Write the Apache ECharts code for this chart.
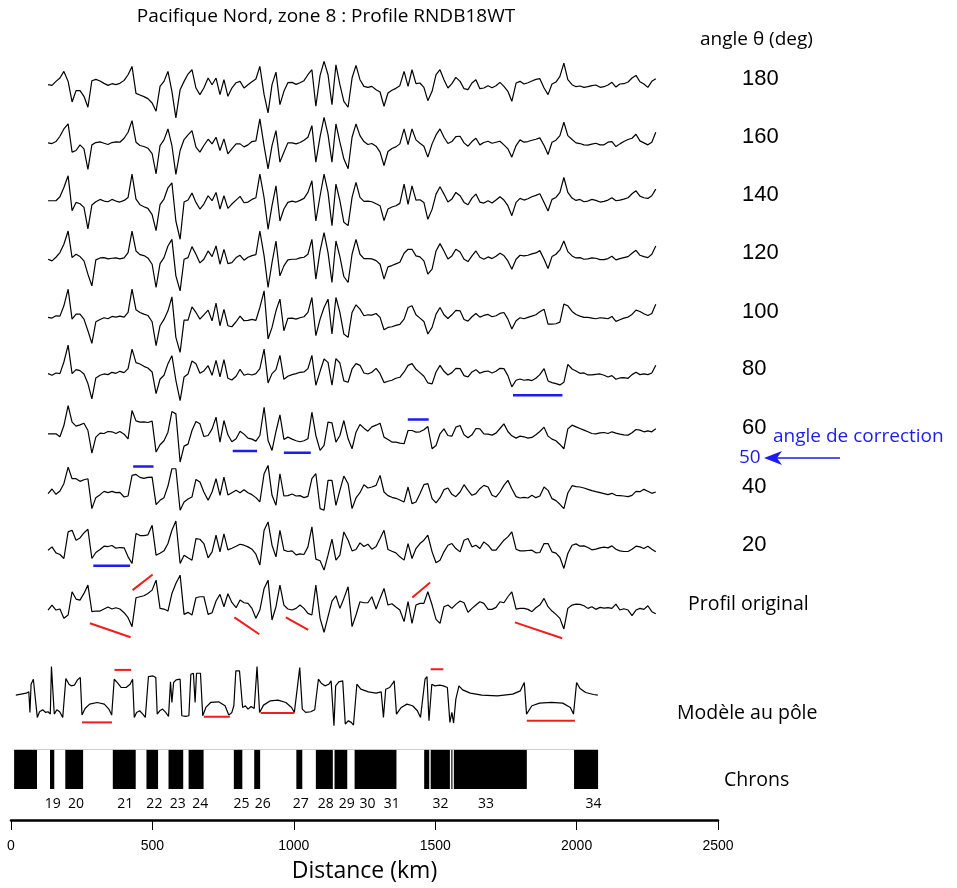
<!DOCTYPE html>
<html><head><meta charset="utf-8">
<script src="https://cdn.jsdelivr.net/npm/echarts@6/dist/echarts.min.js"></script>
<style>html,body{margin:0;padding:0;background:#fff}#c{width:957px;height:888px}</style>
</head><body><div id="c"></div>
<script>
// ---------------- DATA ----------------
// sampling positions along the profiles (km)
const distanceKm = [131,145,159,173,187,202,216,230,244,258,
272,286,300,315,329,343,357,371,385,400,
414,428,442,456,470,484,499,513,527,541,
555,569,583,598,612,626,640,654,668,682,
697,711,725,739,753,767,781,796,810,824,
838,852,866,880,895,909,923,937,951,965,
979,994,1008,1022,1036,1050,1064,1078,1093,1107,
1121,1135,1149,1163,1177,1192,1206,1220,1234,1248,
1262,1276,1291,1305,1319,1333,1347,1361,1375,1390,
1404,1418,1432,1446,1460,1474,1489,1503,1517,1531,
1545,1559,1573,1588,1602,1616,1630,1644,1658,1672,
1687,1701,1715,1729,1743,1757,1771,1786,1800,1814,
1828,1842,1856,1870,1885,1899,1913,1927,1941,1955,
1969,1984,1998,2012,2026,2040,2054,2068,2083,2097,
2111,2125,2139,2153,2167,2182,2196,2210,2224,2238,
2252,2266,2280];

// anomaly values (arbitrary nT units) for each phase angle
const p180 = [0,-2,10,20,40,10,-52,-18,-18,-35,
-68,12,16,11,4,-2,3,0,4,13,
30,55,-26,-31,-36,-42,-55,-80,-5,10,
40,-20,-100,-15,10,32,45,-10,-30,-10,
20,0,20,-30,15,-35,-10,6,10,-10,
0,9,17,55,-30,-85,0,38,-60,-20,
6,7,1,6,12,30,45,-65,28,70,
30,-60,60,0,-50,-68,20,58,15,-5,
-8,-5,-15,-22,-65,-25,-17,-11,-3,40,
-5,45,3,5,-8,-48,-20,30,45,15,
-10,3,22,10,-12,-15,5,15,-12,-10,
-3,-9,-3,7,-5,-20,-50,5,10,2,
6,11,16,18,-10,-30,2,8,25,65,
15,0,-6,-4,-8,-6,-3,-1,-8,-6,
-1,7,-7,2,3,8,20,28,9,2,
-8,10,18];
const p160 = [0,-2,4,20,42,57,-28,-23,-6,-18,
-80,-6,1,3,-1,-5,1,3,2,14,
32,67,2,-8,-11,-16,-32,-93,-8,9,
42,-8,-95,-23,10,24,37,-13,-28,-8,
11,-3,17,-23,12,-33,-18,-3,-3,-12,
-6,4,6,72,-10,-78,-8,37,-58,-28,
0,0,-3,1,8,17,52,-58,19,77,
25,-58,57,2,-48,-78,17,57,22,4,
-5,-2,-10,-28,-68,-26,-17,-12,-3,42,
-5,42,9,-1,-10,-43,-3,24,42,17,
-2,4,19,20,0,-10,4,14,-6,1,
5,-1,2,5,-6,-18,-43,-8,9,2,
4,8,11,15,-8,-35,2,8,22,62,
22,10,0,-2,-6,-7,-4,-1,-6,-6,
2,4,-11,-3,4,10,14,26,6,0,
-6,2,32];
const p140 = [1,1,1,13,41,76,-29,-4,-8,-19,
-84,-12,-2,5,0,-2,5,0,-3,2,
11,81,6,-11,-17,-22,-41,-89,-11,6,
40,55,-60,-115,-3,3,24,-4,-24,-9,
16,1,26,-24,16,-22,-9,3,14,-5,
-3,5,10,81,10,-85,-14,46,-60,-24,
-4,0,-3,2,8,26,61,-60,16,81,
26,-74,51,1,-64,-74,11,56,11,-1,
0,-2,-8,-14,-59,-24,-18,-14,-7,51,
-10,46,3,4,-4,-55,-25,21,43,21,
-3,6,26,16,-4,-11,9,21,-3,-6,
1,-6,3,13,3,-14,-44,-4,8,3,
7,13,17,22,-4,-30,5,11,26,71,
26,9,2,5,-2,0,5,2,-3,-1,
3,10,1,3,6,10,22,31,15,10,
8,16,36];
const p120 = [0,-5,6,20,45,85,5,15,8,-5,
-45,-80,-2,4,5,1,3,4,1,4,
20,85,25,14,11,4,-15,-85,-13,5,
40,60,-50,-95,0,5,38,15,-11,0,
25,8,40,-15,30,-13,-10,5,12,-3,
6,11,14,85,10,-85,-10,55,-50,-20,
-2,0,0,4,6,15,60,-60,25,80,
20,-70,55,8,-52,-70,15,60,15,2,
2,1,-4,-15,-60,-23,-19,-14,-9,18,
30,30,10,7,-5,-45,-30,25,47,25,
1,10,30,22,0,-7,10,25,6,0,
7,2,9,18,11,-5,-30,0,12,10,
12,16,19,26,0,-28,8,15,28,55,
23,10,4,5,0,1,4,3,-1,-1,
2,9,-2,2,5,8,18,27,12,8,
5,15,40];
const p100 = [0,-2,5,4,35,85,-5,10,10,-5,
-40,-78,-13,-6,-1,-4,3,1,4,1,
15,85,23,15,10,6,-13,-85,-25,-6,
20,62,-60,-105,-8,-8,32,15,-5,8,
22,-10,43,-25,24,-25,-28,-13,4,-10,
-9,-6,-9,30,80,-65,-30,20,55,-40,
-3,-2,-5,-1,2,15,60,-55,-5,30,
55,-50,60,15,-50,-60,15,38,25,5,
8,7,12,0,-37,-30,-28,-24,-21,-5,
30,35,8,-2,-12,-50,-30,10,30,8,
-3,8,21,20,-6,-11,2,12,1,6,
9,2,5,12,15,-5,-35,-10,-1,-4,
0,4,8,17,25,-20,-20,-19,-14,40,
35,18,9,4,0,0,-2,-4,-1,-2,
-4,3,-12,-7,-2,1,9,22,18,11,
6,12,40];
const p80 = [6,1,8,6,41,92,6,18,15,5,
-24,-70,-7,1,5,3,10,7,13,9,
21,80,39,35,28,23,11,-54,-11,1,
36,60,-14,-75,-4,5,44,36,7,14,
30,1,46,-4,48,-8,-13,-2,19,1,
5,2,6,21,80,-22,6,18,61,-11,
-2,3,6,10,11,21,61,-29,13,50,
40,-29,51,38,-16,-20,20,36,31,8,
5,10,22,6,-21,-17,-14,-8,-5,11,
31,36,19,9,-2,-22,-25,11,31,13,
2,9,22,21,0,-4,11,18,7,12,
14,8,13,22,21,0,-34,-14,-10,-14,
-12,-15,-8,3,21,-16,-21,-24,-28,-20,
34,20,14,7,8,2,2,4,5,1,
-4,0,-11,-7,-6,-8,3,10,3,5,
3,8,31];
const p60 = [0,0,0,-9,25,85,35,23,27,32,
10,-58,-10,2,1,7,6,1,7,-1,
-15,70,39,35,36,34,38,-55,-33,-21,
5,67,60,-85,-37,-31,10,37,30,-8,
-5,15,50,-25,40,-3,-24,-15,8,-1,
-13,-16,-22,-5,80,-20,-50,7,57,-17,
-10,-16,-21,-24,-21,-15,65,-5,-50,-35,
35,33,-25,-5,40,-15,-45,5,28,17,
8,21,26,32,-10,-17,-25,-25,-28,-30,
10,10,5,6,12,22,-45,-35,0,15,
-5,-7,20,25,-3,-12,-3,16,15,0,
-1,-4,2,16,30,7,-6,-13,-7,-9,
-13,-11,-3,7,20,-7,-16,-21,-32,-45,
15,26,21,16,11,6,1,0,3,4,
1,6,2,-1,-3,-4,3,13,11,6,
9,6,15];
const p40 = [-5,9,-7,3,25,75,40,40,32,37,
40,-50,-17,-8,2,-2,2,-2,-1,-15,
-12,50,53,44,41,44,45,-38,-25,-17,
18,70,70,-55,-30,-21,-15,38,30,0,
-25,0,40,-10,45,-9,-2,5,-2,7,
-2,-8,-17,-30,55,80,-10,-40,55,-12,
-11,-6,-12,-11,-17,-13,40,55,-50,-55,
35,35,-40,5,48,25,-50,-18,-2,22,
12,15,20,50,0,-11,-16,-19,-24,-30,
15,-35,-30,-5,22,25,-20,-33,-17,7,
12,-7,-14,0,22,5,-10,-5,10,20,
15,-10,-15,0,20,35,10,-14,-18,-16,
-18,-10,-17,-12,15,5,-20,-26,-37,-50,
-3,19,16,15,12,8,4,1,-2,-5,
-8,-4,-10,-11,-12,-14,-10,2,1,8,
2,-4,0];
const p20 = [0,10,-8,-13,-25,55,60,30,37,52,
63,-25,-7,2,12,11,14,6,8,7,
-20,-40,50,44,44,46,75,-15,-9,-2,
20,60,88,-40,-15,-23,-30,35,33,20,
-23,-5,45,-5,49,1,6,12,18,15,
10,3,-12,-45,60,85,15,-20,60,0,
-4,-2,-14,-11,-13,10,70,-27,-32,-60,
-15,33,-30,-15,55,30,-2,2,22,11,
18,3,11,35,60,2,-3,-8,-20,-30,
20,-25,5,20,30,45,-5,-38,-30,-5,
15,20,5,-5,30,35,10,15,5,25,
15,0,0,15,30,40,55,3,-2,-2,
-1,0,-8,-7,20,20,-5,-9,-22,-55,
-10,15,19,12,13,8,1,3,7,9,
7,13,3,-2,-4,-4,3,12,10,5,
12,3,-5];
const pOriginal = [-5,10,-5,-2,-30,-20,50,28,25,45,
70,-10,-8,-8,-2,4,-2,2,-2,-13,
-28,-55,32,35,38,45,55,85,0,-2,
-8,45,75,100,-18,-12,-20,32,35,35,
-18,-13,22,42,5,44,18,2,25,17,
15,0,-30,-5,60,85,-35,5,70,10,
-2,-5,0,10,0,-15,-20,70,-30,-72,
-25,22,38,0,30,65,-55,-20,20,17,
17,35,-2,30,60,10,14,4,-5,-40,
20,-45,10,15,15,50,10,-33,-45,5,
10,0,12,22,17,-12,0,10,20,15,
-3,-3,3,20,17,35,50,-2,0,0,
-3,-10,2,10,30,5,-8,-18,-30,-62,
0,10,13,12,8,0,5,-3,3,1,
2,0,13,-5,-1,-5,-22,-5,0,-3,
8,-10,-16];

// pole model: [km, anomaly]
const modelPole = [[17,0],[54,6],[63,10],[67,-52],[71,33],[79,48],[86,43],[93,-67],[101,-50],[112,-44],[123,-52],[131,-50],[139,-57],[143,86],[149,86],[153,-57],[162,-44],[172,-50],[183,-67],[194,50],[205,33],[213,28],[224,30],[235,46],[245,53],[251,-60],[262,-40],[278,-27],[305,-22],[330,-27],[346,-42],[356,-60],[365,48],[376,38],[390,23],[407,23],[421,33],[430,48],[436,-67],[444,-52],[455,-47],[466,-57],[475,-67],[486,56],[502,58],[512,53],[517,-57],[526,-47],[536,-42],[547,-52],[557,-64],[564,40],[569,-22],[575,38],[584,46],[598,48],[604,-62],[618,-64],[629,-62],[636,63],[645,66],[651,-22],[656,66],[670,66],[678,-62],[689,-37],[706,-22],[734,-20],[757,-32],[770,-60],[781,-52],[788,-32],[795,73],[808,73],[819,-37],[829,-32],[838,-42],[849,-34],[860,-40],[870,86],[879,-52],[893,-30],[917,-17],[944,-15],[972,-22],[992,-37],[1002,-52],[1021,83],[1030,-42],[1042,-52],[1060,-50],[1074,-44],[1087,48],[1097,36],[1110,28],[1124,33],[1132,43],[1142,-92],[1148,28],[1159,40],[1173,43],[1182,-87],[1193,-77],[1203,-82],[1211,-90],[1223,33],[1237,18],[1264,10],[1291,6],[1309,10],[1317,-67],[1325,18],[1339,23],[1350,36],[1355,43],[1363,-57],[1380,-37],[1400,-27],[1420,-32],[1437,-47],[1448,-67],[1464,48],[1471,56],[1478,-77],[1488,33],[1499,28],[1516,30],[1529,28],[1543,23],[1552,-82],[1559,-52],[1565,-84],[1573,-12],[1584,28],[1597,16],[1624,6],[1665,0],[1720,-2],[1774,3],[1801,13],[1815,38],[1823,-57],[1842,-32],[1869,-24],[1910,-22],[1951,-24],[1978,-37],[1989,-57],[2000,38],[2012,20],[2032,8],[2060,2],[2075,0]];

// chron bar (km): full extent and white (reversed) intervals
const chronExtent = [11, 2076];
const chronWhite = [[92,138],[153,192],[255,360],[441,479],[520,557],[609,628],[681,788],[818,860],[881,1009],[1030,1078],[1138,1144],[1189,1215],[1363,1461],[1479,1484],[1552,1557],[1561,1566],[1824,1991]];
const chronNames = ['19','20','21','22','23','24','25','26','27','28','29','30','31','32','33','34'];
const chronKm = [148,230,404,507,590,669,815,890,1025,1113,1187,1261,1346,1519,1680,2060];

const angleLabels = ['180','160','140','120','100','80','60','40','20'];

// correction marks: [row, [km, anomaly], [km, anomaly]]  (row 9 = original, 10 = model)
const blueMarks = [[5,[1775,-59],[1950,-59]],[6,[784,-52],[870,-52]],[6,[965,-57],[1060,-57]],[6,[1403,43],[1477,43]],[7,[432,77],[504,77]],[8,[291,-47],[421,-47]]];
const redMarks = [[9,[279,-45],[423,-87]],[9,[430,55],[501,102]],[9,[790,-27],[878,-78]],[9,[972,-27],[1051,-65]],[9,[1419,33],[1482,78]],[9,[1782,-42],[1949,-90]],
 [10,[251,-82],[357,-82]],[10,[366,76],[425,76]],[10,[682,-65],[774,-65]],[10,[883,-54],[1002,-54]],[10,[1484,78],[1529,78]],[10,[1824,-77],[1994,-77]]];

// ---------------- LAYOUT ----------------
const AXIS_Y = 823;          // pixel row of the distance axis
const UNITS_PER_PX = 3;      // vertical scale
const ROW_Y0 = 85, ROW_STEP = 58.4, MODEL_Y = 697.7;
const rowOffset = r => (AXIS_Y - (r === 10 ? MODEL_Y : ROW_Y0 + ROW_STEP * r)) * UNITS_PER_PX;
const CHRON_TOP = (AXIS_Y - 752.5) * UNITS_PER_PX, CHRON_BOT = (AXIS_Y - 792) * UNITS_PER_PX;
const CHRON_LABEL = (AXIS_Y - 807) * UNITS_PER_PX;
const BLUE = '#1c1cf2', RED = '#f21c1c';

const profiles = [p180,p160,p140,p120,p100,p80,p60,p40,p20,pOriginal];
const series = [];
profiles.forEach((vals, r) => {
  const off = rowOffset(r);
  series.push({type:'line', silent:true, symbol:'none', showSymbol:false, animation:false,
    lineStyle:{color:'#000', width:1.2}, data: distanceKm.map((x,i)=>[x, off + vals[i]])});
});
const mOff = rowOffset(10);
series.push({type:'line', silent:true, symbol:'none', showSymbol:false, animation:false,
  lineStyle:{color:'#000', width:1.2}, data: modelPole.map(d=>[d[0], mOff + d[1]])});

[[blueMarks, BLUE, 2.5],[redMarks, RED, 2]].forEach(([marks, col, w]) => {
  marks.forEach(m => {
    const off = rowOffset(m[0]);
    series.push({type:'line', silent:true, symbol:'none', showSymbol:false, animation:false,
      lineStyle:{color:col, width:w}, data:[[m[1][0], off+m[1][1]],[m[2][0], off+m[2][1]]]});
  });
});

// chron bar
const chronData = [[chronExtent[0], chronExtent[1], 1]].concat(chronWhite.map(w => [w[0], w[1], 0]));
series.push({type:'custom', silent:true, animation:false, clip:false,
  encode:{x:[0,1]},
  renderItem:(p, api) => {
    const a = api.coord([api.value(0), CHRON_TOP]);
    const b = api.coord([api.value(1), CHRON_BOT]);
    return {type:'rect', shape:{x:a[0], y:a[1], width:b[0]-a[0], height:b[1]-a[1]},
      style:{fill: api.value(2) ? '#000' : '#fff'}};
  },
  data: chronData});
series.push({type:'custom', silent:true, animation:false, clip:false,
  encode:{x:0},
  renderItem:(p, api) => {
    const c = api.coord([api.value(0), CHRON_LABEL]);
    return {type:'text', x:c[0], y:c[1], style:{text: chronNames[p.dataIndex], textAlign:'center', textVerticalAlign:'middle', font:'14px "Open Sans"', fill:'#000'}};
  },
  data: chronKm.map(k => [k])});

// text
const txt = (text, x, y, font, fill, align) => ({type:'text', x, y, silent:true,
  style:{text, font, fill: fill || '#000', textAlign: align || 'left', textVerticalAlign:'middle'}});
const angleY = [79,137,195,253,312,369,428,487,545];
const graphics = [
  txt('Pacifique Nord, zone 8 : Profile RNDB18WT', 326, 17, '19px "Open Sans"', '#000', 'center'),
  txt('angle θ (deg)', 700, 40, '19px "Open Sans"'),
  txt('Profil original', 688, 604, '19.5px "Open Sans"'),
  txt('Modèle au pôle', 677, 713, '19.5px "Open Sans"'),
  txt('Chrons', 724, 780, '19.5px "Open Sans"'),
  txt('angle de correction', 773, 437, '19px "Open Sans"', BLUE),
  txt('50', 739, 458, '19px "Open Sans"', BLUE),
  {type:'line', silent:true, shape:{x1:776, y1:458, x2:840, y2:458}, style:{stroke:BLUE, lineWidth:1.5}},
  {type:'polygon', silent:true, shape:{points:[[764,458],[782,451],[777,458],[782,465]]}, style:{fill:BLUE}}
];
angleLabels.forEach((t,i) => graphics.push(txt(t, 742, angleY[i], '22px "Liberation Sans"')));

const chart = echarts.init(document.getElementById('c'), null, {renderer:'canvas'});
chart.setOption({
  animation:false,
  backgroundColor:'#fff',
  grid:{left:11, right:239, top:0, bottom:65, containLabel:false},
  xAxis:{type:'value', min:0, max:2500, interval:500,
    axisLine:{show:true, lineStyle:{color:'#000', width:2.5}},
    axisTick:{show:true, length:10, lineStyle:{color:'#000', width:1}},
    axisLabel:{color:'#000', fontSize:14, margin:19, fontFamily:'Liberation Sans', formatter: v => String(v)},
    splitLine:{show:false},
    name:'Distance (km)', nameLocation:'middle', nameGap:40,
    nameTextStyle:{fontSize:23, color:'#000', fontFamily:'Open Sans'}},
  yAxis:{type:'value', min:0, max:AXIS_Y*UNITS_PER_PX, show:false, splitLine:{show:false}},
  series,
  graphic: graphics
});
</script>
</body></html>
